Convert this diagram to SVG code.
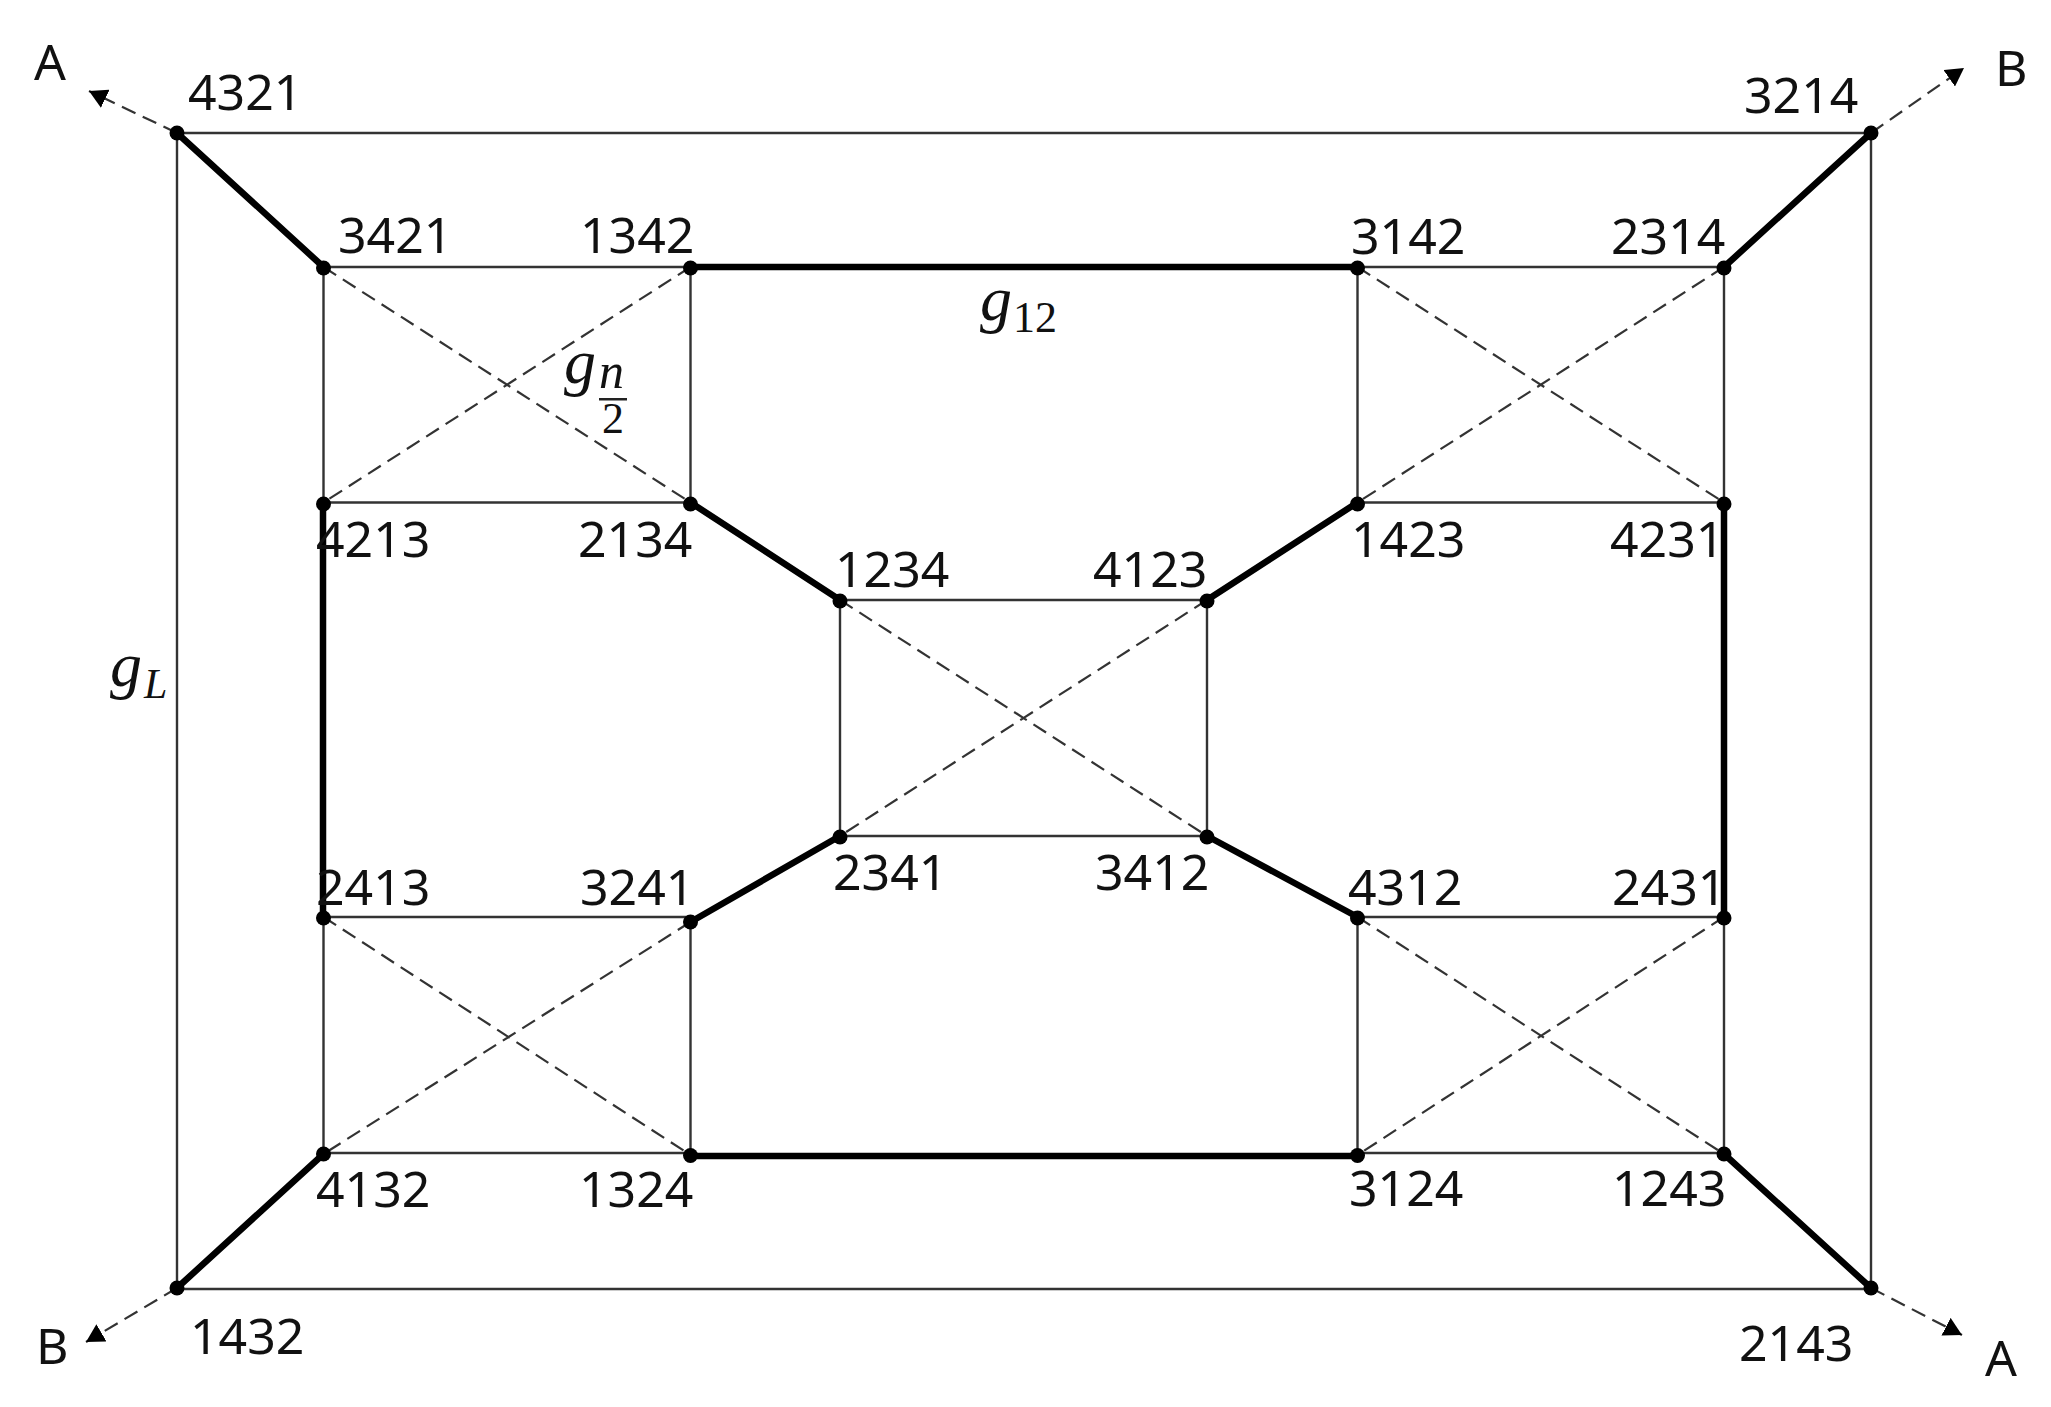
<svg xmlns="http://www.w3.org/2000/svg" width="2051" height="1407" viewBox="0 0 2051 1407">
<style>
text{font-family:"Noto Sans","Open Sans",sans-serif;font-size:50px;fill:#111}
.m{font-family:"Liberation Serif",serif;font-style:italic;font-size:64px}
.s{font-family:"Liberation Serif",serif;font-size:44px}
.si{font-family:"Liberation Serif",serif;font-style:italic;font-size:42px}
.n{font-family:"Liberation Serif",serif;font-style:italic;font-size:50px}
.f{font-family:"Liberation Serif",serif;font-size:44px}
.t{stroke:#333;stroke-width:2.4;fill:none}
.k{stroke:#000;stroke-width:6.500;fill:none}
.d{stroke:#333;stroke-width:2.2;stroke-dasharray:15 8;fill:none}
circle{fill:#000}
</style>
<defs>
<marker id="ah" viewBox="0 0 18 20" refX="18" refY="10" markerWidth="18" markerHeight="20" markerUnits="userSpaceOnUse" orient="auto"><path d="M0 0L18 10L0 20Z" fill="#000"/></marker>
</defs>
<rect width="2051" height="1407" fill="#fff"/>
<g id="connectors">
<g class="t">
<path d="M177 133H1871V1289H177Z"/>
<path d="M690.500 502.500V267H323.500V502.500H690.500"/>
<path d="M1357.500 502.500V267H1724V502.500H1357.500"/>
<path d="M690.500 1155V917H323.500V1153H690.500"/>
<path d="M1357.500 1155V917H1724V1153H1357.500"/>
<path d="M840 600H1207V836H840Z"/>
</g>
<g class="k">
<path d="M177 133L323.500 267M1871 133L1724 267M323.500 1154L177 1288M1724 1154L1871 1288"/>
<path d="M690.500 267H1357.500M690.500 1156H1357.500"/>
<path d="M690.500 502.500L840 600M1207 600L1357.500 502.500M840 836L690.500 922M1207 836L1357.500 917"/>
<path d="M323 504V918M1724 504V918"/>
</g>
<g class="d">
<path d="M323.500 267L690.500 502.500M690.500 267L323.500 502.500"/>
<path d="M1357.500 267L1724 502.500M1724 267L1357.500 502.500"/>
<path d="M840 600L1207 836M1207 600L840 836"/>
<path d="M323.500 917L690.500 1155M690.500 922L323.500 1154"/>
<path d="M1357.500 917L1724 1154M1724 917L1357.500 1155"/>
<path d="M177 133L89 91" marker-end="url(#ah)"/>
<path d="M1871 133L1964 68" marker-end="url(#ah)"/>
<path d="M177 1288L86 1342" marker-end="url(#ah)"/>
<path d="M1871 1288L1962 1335" marker-end="url(#ah)"/>
</g>
</g>
<g id="n4321"><circle cx="177" cy="133" r="7.500"/><text x="188" y="110">4321</text></g>
<g id="n3214"><circle cx="1871" cy="133" r="7.500"/><text x="1744" y="113">3214</text></g>
<g id="n3421"><circle cx="323.500" cy="268" r="7.500"/><text x="338" y="253">3421</text></g>
<g id="n1342"><circle cx="690.500" cy="268" r="7.500"/><text x="580" y="253">1342</text></g>
<g id="n3142"><circle cx="1357.500" cy="268" r="7.500"/><text x="1351" y="254">3142</text></g>
<g id="n2314"><circle cx="1724" cy="268" r="7.500"/><text x="1611" y="254">2314</text></g>
<g id="n4213"><circle cx="323.500" cy="504" r="7.500"/><text x="316" y="557">4213</text></g>
<g id="n2134"><circle cx="690.500" cy="504" r="7.500"/><text x="578" y="557">2134</text></g>
<g id="n1423"><circle cx="1357.500" cy="504" r="7.500"/><text x="1351" y="557">1423</text></g>
<g id="n4231"><circle cx="1724" cy="504" r="7.500"/><text x="1610" y="557">4231</text></g>
<g id="n1234"><circle cx="840" cy="601" r="7.500"/><text x="835" y="587">1234</text></g>
<g id="n4123"><circle cx="1207" cy="601" r="7.500"/><text x="1093" y="587">4123</text></g>
<g id="n2341"><circle cx="840" cy="837" r="7.500"/><text x="833" y="890">2341</text></g>
<g id="n3412"><circle cx="1207" cy="837" r="7.500"/><text x="1095" y="890">3412</text></g>
<g id="n2413"><circle cx="323.500" cy="918" r="7.500"/><text x="316" y="905">2413</text></g>
<g id="n3241"><circle cx="690.500" cy="922" r="7.500"/><text x="580" y="905">3241</text></g>
<g id="n4312"><circle cx="1357.500" cy="918" r="7.500"/><text x="1348" y="905">4312</text></g>
<g id="n2431"><circle cx="1724" cy="918" r="7.500"/><text x="1612" y="905">2431</text></g>
<g id="n4132"><circle cx="323.500" cy="1154" r="7.500"/><text x="316" y="1207">4132</text></g>
<g id="n1324"><circle cx="690.500" cy="1155.500" r="7.500"/><text x="579" y="1207">1324</text></g>
<g id="n3124"><circle cx="1357.500" cy="1155.500" r="7.500"/><text x="1349" y="1206">3124</text></g>
<g id="n1243"><circle cx="1724" cy="1154" r="7.500"/><text x="1612" y="1206">1243</text></g>
<g id="n1432"><circle cx="177" cy="1288" r="7.500"/><text x="190" y="1354">1432</text></g>
<g id="n2143"><circle cx="1871" cy="1288" r="7.500"/><text x="1739" y="1361">2143</text></g>
<g id="labels">
<text x="34" y="80">A</text>
<text x="1995" y="86">B</text>
<text x="36" y="1364">B</text>
<text x="1985" y="1376">A</text>
<text class="m" x="980" y="320">g</text><text class="s" x="1013" y="332">12</text>
<text class="m" x="110" y="686">g</text><text class="si" x="144" y="698">L</text>
<text class="m" x="564" y="383">g</text><text class="n" x="599" y="388">n</text>
<rect x="599" y="398" width="28" height="2.500" fill="#222"/>
<text class="f" x="602" y="433">2</text>
</g>
</svg>
